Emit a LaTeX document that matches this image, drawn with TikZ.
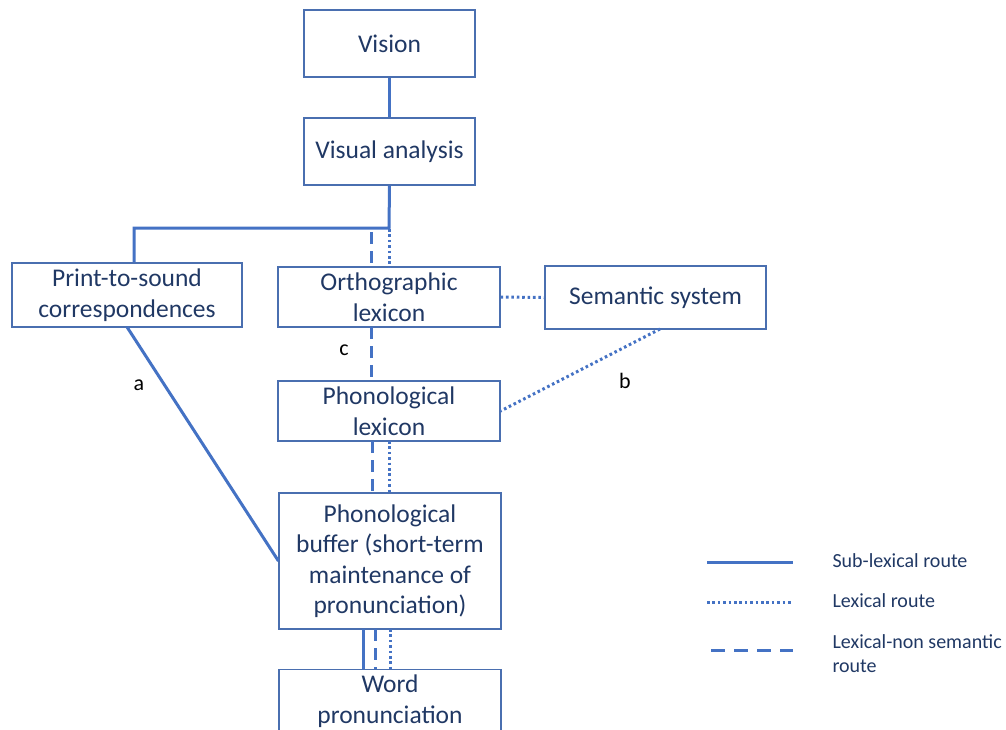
\documentclass[tikz,border=0pt]{standalone}
\usepackage{fontspec}
\setmainfont{Carlito}
\definecolor{txt}{HTML}{203864}
\definecolor{ln}{HTML}{4472C4}
\definecolor{bd}{HTML}{4A6FB0}
\tikzset{
  box/.style={draw=bd, line width=1.1pt, text=txt, align=center, inner sep=0pt,
    font=\fontsize{25.5}{30.5}\selectfont},
  solidr/.style={draw=ln, line width=3pt},
  dotr/.style={draw=ln, line width=3pt, dash pattern=on 2.6pt off 2.8pt},
  dashr/.style={draw=ln, line width=3pt, dash pattern=on 12pt off 7pt},
  lbl/.style={text=black, font=\fontsize{22}{24}\selectfont},
  leg/.style={text=txt, anchor=west, align=left, font=\fontsize{20}{24}\selectfont}
}
\begin{document}
\begin{tikzpicture}[x=1pt,y=-1pt]
\useasboundingbox (0,0) rectangle (1006,729);
% boxes
\node[box, minimum width=171pt, minimum height=67pt] (vis) at (389.5,43.5) {Vision};
\node[box, minimum width=171pt, minimum height=67pt] (va) at (389.5,151.5) {Visual analysis};
\node[box, minimum width=230pt, minimum height=64pt] (pts) at (127,295) {Print-to-sound\\correspondences};
\node[box, minimum width=222pt, minimum height=60pt] (ol) at (389,297) {Orthographic\\lexicon};
\node[box, minimum width=221pt, minimum height=63pt] (ss) at (655.5,297.5) {Semantic system};
\node[box, minimum width=222pt, minimum height=60pt] (pl) at (389,411) {Phonological\\lexicon};
\node[box, minimum width=222pt, minimum height=136pt] (pb) at (390,561) {Phonological\\buffer (short-term\\maintenance of\\pronunciation)};
\node[box, minimum width=222pt, minimum height=80pt, anchor=north] (wp) at (390,669) {};
\node[text=txt, align=center, font=\fontsize{25.5}{30.5}\selectfont] (wpt) at (390,701) {Word\\pronunciation};
% coordinates
\coordinate (j) at (389,228);
\coordinate (jl) at (134,228);
% connectors
\draw[solidr] (vis.south) -- (va.south |- vis.south) -- (va.north);
\draw[solidr] (va.south) -- (j) -- (jl) -- (jl |- pts.north);
\draw[dashr] (371,232) -- (371,267);
\draw[dotr] (389,229) -- (389,267);
\draw[dashr] (371,327) -- (371,381);
\draw[dotr] (ol.east) -- (ss.west);
\draw[dotr] (660,329) -- (pl.east);
\draw[solidr] (127,327) -- (pb.west);
\draw[dashr] (372,441) -- (372,493);
\draw[dotr] (389,441) -- (389,493);
\draw[solidr] (363,629) -- (363,669);
\draw[dashr] (375,629) -- (375,669);
\draw[dotr] (390,629) -- (390,669);
% labels
\node[lbl] (la) at (139,385) {a};
\node[lbl] (lb) at (625,381) {b};
\node[lbl] (lc) at (344,350) {c};
% legend
\coordinate (l1a) at (707,562); \coordinate (l1b) at (793,562);
\coordinate (l2a) at (707,602); \coordinate (l2b) at (793,602);
\coordinate (l3a) at (711,650); \coordinate (l3b) at (793,650);
\draw[solidr] (l1a) -- (l1b);
\draw[dotr] (l2a) -- (l2b);
\draw[dashr, dash pattern=on 14pt off 9pt] (l3a) -- (l3b);
\node[leg] (t1) at (829,561) {Sub-lexical route};
\node[leg] (t2) at (829,601) {Lexical route};
\node[leg] (t3) at (829,654) {Lexical-non semantic\\route};
\end{tikzpicture}
\end{document}
